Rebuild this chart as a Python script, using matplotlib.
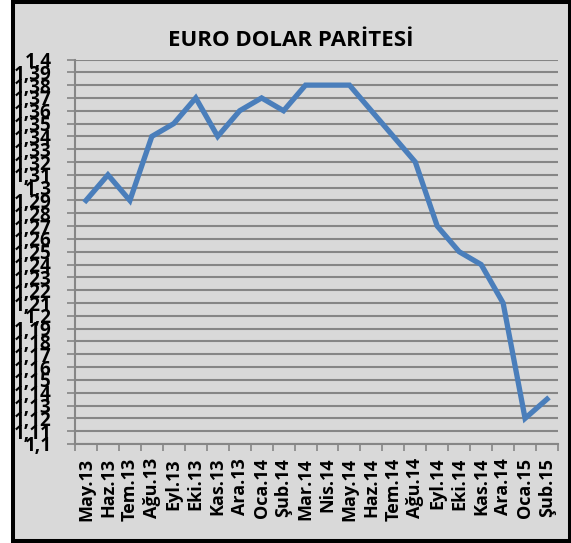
import matplotlib.pyplot as plt
from matplotlib.patches import Rectangle
from matplotlib.ticker import FixedLocator, FuncFormatter

months = ["May.13", "Haz.13", "Tem.13", "Ağu.13", "Eyl.13", "Eki.13", "Kas.13",
          "Ara.13", "Oca.14", "Şub.14", "Mar.14", "Nis.14", "May.14", "Haz.14",
          "Tem.14", "Ağu.14", "Eyl.14", "Eki.14", "Kas.14", "Ara.14", "Oca.15",
          "Şub.15"]
parity = [1.29, 1.31, 1.29, 1.34, 1.35, 1.37, 1.34, 1.36, 1.37, 1.36, 1.38,
          1.38, 1.38, 1.36, 1.34, 1.32, 1.27, 1.25, 1.24, 1.21, 1.12, 1.135]
y_ticks = [1.10, 1.11, 1.12, 1.13, 1.14, 1.15, 1.16, 1.17, 1.18, 1.19, 1.20,
           1.21, 1.22, 1.23, 1.24, 1.25, 1.26, 1.27, 1.28, 1.29, 1.30, 1.31,
           1.32, 1.33, 1.34, 1.35, 1.36, 1.37, 1.38, 1.39, 1.40]

plt.rcParams['font.family'] = ['Open Sans', 'DejaVu Sans']

fig = plt.figure(figsize=(5.71, 5.43), dpi=100)
fig.patches.append(Rectangle((13 / 571, 2 / 543), 556.5 / 571, 539 / 543,
                             transform=fig.transFigure, facecolor="#d9d9d9",
                             edgecolor="black", linewidth=2.9, zorder=-10))

ax = fig.add_axes([75 / 571, 1 - 444 / 543, 483 / 571, 384.5 / 543])
ax.set_facecolor("none")

x = list(range(len(months)))
ax.plot(x, parity, color="#4a7ebb", linewidth=3.8, solid_joinstyle="miter",
        zorder=3)

ax.set_xlim(-0.5, len(months) - 0.5)
ax.set_ylim(1.1, 1.4)

ax.yaxis.set_major_locator(FixedLocator(y_ticks))
ax.yaxis.set_major_formatter(FuncFormatter(
    lambda v, p: ("%.2f" % v).rstrip("0").replace(".", ",")))
ax.grid(axis="y", color="#868686", linewidth=1.5)
ax.set_axisbelow(True)

# category boundaries get the tick marks, the labels sit in between
ax.xaxis.set_major_locator(FixedLocator([i - 0.5 for i in range(len(months) + 1)]))
ax.xaxis.set_major_formatter(FuncFormatter(lambda v, p: ""))
ax.set_xticks(x, minor=True)
ax.set_xticklabels(months, minor=True, rotation=90, fontsize=13,
                   fontweight="bold")
ax.tick_params(axis="x", which="minor", length=0, pad=10)
ax.tick_params(axis="x", which="major", length=5, width=1.2, color="#868686")
ax.tick_params(axis="y", length=6, width=1.2, color="#868686", pad=11,
               labelsize=13.5)
for lab in ax.get_yticklabels():
    lab.set_fontweight("bold")

for side in ["top", "right"]:
    ax.spines[side].set_visible(False)
for side in ["left", "bottom"]:
    ax.spines[side].set_color("#868686")
    ax.spines[side].set_linewidth(1.5)

fig.text(291 / 571, 1 - 40 / 543, "EURO DOLAR PARİTESİ", ha="center",
         va="center", fontsize=16, fontweight="bold")

fig.savefig("out.png", dpi=100)
